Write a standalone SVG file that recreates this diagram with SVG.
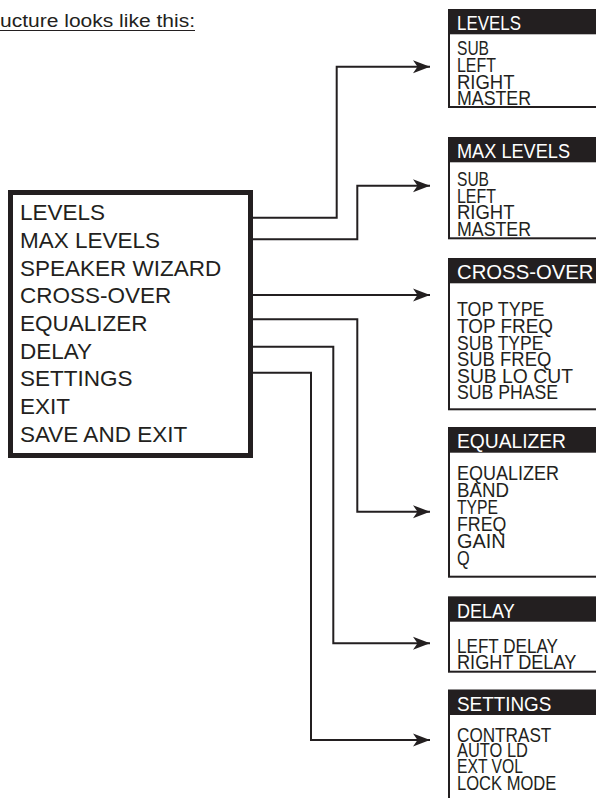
<svg xmlns="http://www.w3.org/2000/svg" width="596" height="798" viewBox="0 0 596 798">
<style>
.main{font-family:"Liberation Sans",Arial,sans-serif;font-size:22.5px;fill:#231f20}
.it{font-family:"Liberation Sans",Arial,sans-serif;font-size:21px;fill:#231f20}
.hd{font-family:"Liberation Sans",Arial,sans-serif;font-size:21px;fill:#ffffff}
.ttl{font-family:"Liberation Sans",Arial,sans-serif;font-size:18px;fill:#231f20}
.frame{fill:#ffffff;stroke:#231f20;stroke-width:2}
.bar{fill:#231f20}
.conn{fill:none;stroke:#231f20;stroke-width:2}
</style>
<defs>
<marker id="arr" markerUnits="userSpaceOnUse" markerWidth="18" markerHeight="14" refX="17" refY="7" orient="auto">
<path d="M0,0.5 L17,7 L0,13.5 L4.5,7 Z" fill="#231f20"/>
</marker>
</defs>
<rect width="596" height="798" fill="#ffffff"/>
<g id="title">
<text class="ttl" x="0" y="26.5" textLength="195" lengthAdjust="spacingAndGlyphs">ucture looks like this:</text>
<line x1="0" y1="30.5" x2="195" y2="30.5" stroke="#231f20" stroke-width="1"/>
</g>
<g id="connectors">
<path class="conn" d="M253,217.7 H336.7 V66.7 H430" marker-end="url(#arr)"/>
<path class="conn" d="M253,239.3 H357.3 V185.7 H430" marker-end="url(#arr)"/>
<path class="conn" d="M253,295 H430" marker-end="url(#arr)"/>
<path class="conn" d="M253,319.3 H357.3 V511.7 H430" marker-end="url(#arr)"/>
<path class="conn" d="M253,346.7 H333.3 V643.3 H430" marker-end="url(#arr)"/>
<path class="conn" d="M253,372.7 H311 V740 H430" marker-end="url(#arr)"/>
</g>
<g id="main-menu">
<rect x="10.5" y="192.5" width="240" height="263" fill="#ffffff" stroke="#231f20" stroke-width="5"/>
<text class="main" x="20" y="220">LEVELS</text>
<text class="main" x="20" y="247.7">MAX LEVELS</text>
<text class="main" x="20" y="275.5">SPEAKER WIZARD</text>
<text class="main" x="20" y="303.2">CROSS-OVER</text>
<text class="main" x="20" y="331">EQUALIZER</text>
<text class="main" x="20" y="358.5">DELAY</text>
<text class="main" x="20" y="386.2">SETTINGS</text>
<text class="main" x="20" y="413.8">EXIT</text>
<text class="main" x="20" y="441.5">SAVE AND EXIT</text>
</g>
<g id="levels">
<rect class="frame" x="449" y="10" width="160" height="97"/>
<rect class="bar" x="448" y="9.3" width="150" height="25"/>
<text class="hd" x="457" y="30" textLength="64" lengthAdjust="spacingAndGlyphs">LEVELS</text>
<text class="it" x="457" y="55" textLength="32" lengthAdjust="spacingAndGlyphs">SUB</text>
<text class="it" x="457" y="72" textLength="39" lengthAdjust="spacingAndGlyphs">LEFT</text>
<text class="it" x="457" y="89" textLength="57.5" lengthAdjust="spacingAndGlyphs">RIGHT</text>
<text class="it" x="457" y="105.3" textLength="74" lengthAdjust="spacingAndGlyphs">MASTER</text>
</g>
<g id="max-levels">
<rect class="frame" x="449" y="138" width="160" height="100.3"/>
<rect class="bar" x="448" y="137.3" width="150" height="25"/>
<text class="hd" x="457" y="158.3" textLength="113" lengthAdjust="spacingAndGlyphs">MAX LEVELS</text>
<text class="it" x="457" y="186" textLength="32" lengthAdjust="spacingAndGlyphs">SUB</text>
<text class="it" x="457" y="202.7" textLength="39" lengthAdjust="spacingAndGlyphs">LEFT</text>
<text class="it" x="457" y="219.3" textLength="57.5" lengthAdjust="spacingAndGlyphs">RIGHT</text>
<text class="it" x="457" y="235.5" textLength="74" lengthAdjust="spacingAndGlyphs">MASTER</text>
</g>
<g id="cross-over">
<rect class="frame" x="449" y="259" width="160" height="150.3"/>
<rect class="bar" x="448" y="258.3" width="150" height="25"/>
<text class="hd" x="457" y="279.3" textLength="136.5" lengthAdjust="spacingAndGlyphs">CROSS-OVER</text>
<text class="it" x="457" y="316.3" textLength="87.5" lengthAdjust="spacingAndGlyphs">TOP TYPE</text>
<text class="it" x="457" y="333" textLength="96" lengthAdjust="spacingAndGlyphs">TOP FREQ</text>
<text class="it" x="457" y="349.5" textLength="86.5" lengthAdjust="spacingAndGlyphs">SUB TYPE</text>
<text class="it" x="457" y="366" textLength="94.3" lengthAdjust="spacingAndGlyphs">SUB FREQ</text>
<text class="it" x="457" y="382.7" textLength="116" lengthAdjust="spacingAndGlyphs">SUB LO CUT</text>
<text class="it" x="457" y="399.3" textLength="101" lengthAdjust="spacingAndGlyphs">SUB PHASE</text>
</g>
<g id="equalizer">
<rect class="frame" x="449" y="428" width="160" height="148.7"/>
<rect class="bar" x="448" y="427.3" width="150" height="25.4"/>
<text class="hd" x="457" y="448.3" textLength="109" lengthAdjust="spacingAndGlyphs">EQUALIZER</text>
<text class="it" x="457" y="480" textLength="102" lengthAdjust="spacingAndGlyphs">EQUALIZER</text>
<text class="it" x="457" y="497" textLength="52" lengthAdjust="spacingAndGlyphs">BAND</text>
<text class="it" x="457" y="514" textLength="41" lengthAdjust="spacingAndGlyphs">TYPE</text>
<text class="it" x="457" y="531" textLength="49.3" lengthAdjust="spacingAndGlyphs">FREQ</text>
<text class="it" x="457" y="548" textLength="48.7" lengthAdjust="spacingAndGlyphs">GAIN</text>
<text class="it" x="457" y="565" textLength="12.7" lengthAdjust="spacingAndGlyphs">Q</text>
</g>
<g id="delay">
<rect class="frame" x="449" y="597.5" width="160" height="74.2"/>
<rect class="bar" x="448" y="596.7" width="150" height="25"/>
<text class="hd" x="457" y="618" textLength="57.7" lengthAdjust="spacingAndGlyphs">DELAY</text>
<text class="it" x="457" y="653.3" textLength="101" lengthAdjust="spacingAndGlyphs">LEFT DELAY</text>
<text class="it" x="457" y="669" textLength="119.3" lengthAdjust="spacingAndGlyphs">RIGHT DELAY</text>
</g>
<g id="settings">
<rect class="frame" x="449" y="690.5" width="160" height="130"/>
<rect class="bar" x="448" y="690" width="150" height="25"/>
<text class="hd" x="457" y="710.5" textLength="94.3" lengthAdjust="spacingAndGlyphs">SETTINGS</text>
<text class="it" x="457" y="741.5" textLength="94.3" lengthAdjust="spacingAndGlyphs">CONTRAST</text>
<text class="it" x="457" y="757" textLength="71" lengthAdjust="spacingAndGlyphs">AUTO LD</text>
<text class="it" x="457" y="773.3" textLength="66" lengthAdjust="spacingAndGlyphs">EXT VOL</text>
<text class="it" x="457" y="790" textLength="99.3" lengthAdjust="spacingAndGlyphs">LOCK MODE</text>
</g>
</svg>
